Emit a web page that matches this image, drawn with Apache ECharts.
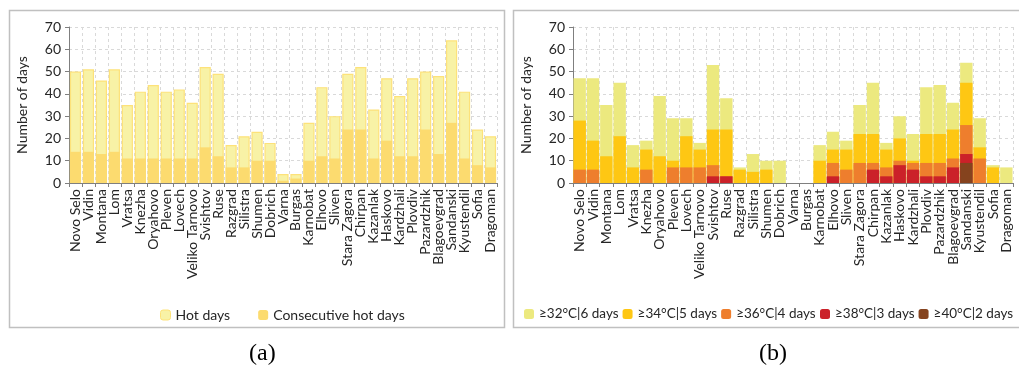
<!DOCTYPE html>
<html>
<head>
<meta charset="utf-8">
<script src="https://cdn.jsdelivr.net/npm/echarts@6/dist/echarts.min.js"></script>
<style>
html,body{margin:0;padding:0;background:#fff;}
#c{width:1019px;height:376px;}
</style>
</head>
<body>
<div id="c"></div>
<script>
var stations = ['Novo Selo','Vidin','Montana','Lom','Vratsa','Knezha','Oryahovo','Pleven','Lovech','Veliko Tarnovo','Svishtov','Ruse','Razgrad','Silistra','Shumen','Dobrich','Varna','Burgas','Karnobat','Elhovo','Sliven','Stara Zagora','Chirpan','Kazanlak','Haskovo','Kardzhali','Plovdiv','Pazardzhik','Blagoevgrad','Sandanski','Kyustendil','Sofia','Dragoman'];
var yTicks = [0,10,20,30,40,50,60,70];

// (a)
var hotDays =        [50,51,46,51,35,41,44,41,42,36,52,49,17,21,23,18,4,4,27,43,30,49,52,33,47,39,47,50,48,64,41,24,21];
var consecutiveHot = [14,14,13,14,11,11,11,11,11,11,16,12,7,7,10,10,1,2,10,12,11,24,24,11,19,12,12,24,13,27,11,8,7];

// (b) number of days in heat waves per threshold (each bar drawn from 0)
var ge32 = [47,47,35,45,17,19,39,29,29,18,53,38,7,13,10,10,0,0,17,23,19,35,45,18,30,22,43,44,36,54,29,8,7];
var ge34 = [28,19,12,21,7,15,12,10,21,15,24,24,6,5,6,0,0,0,10,15,15,22,22,15,20,10,22,22,24,45,16,7,0];
var ge36 = [6,6,0,0,0,6,0,7,7,7,8,3,0,0,0,0,0,0,0,9,6,9,9,7,10,9,9,9,11,26,11,0,0];
var ge38 = [0,0,0,0,0,0,0,0,0,0,3,3,0,0,0,0,0,0,0,3,0,0,6,3,8,6,3,3,7,13,0,0,0];
var ge40 = [0,0,0,0,0,0,0,0,0,0,0,0,0,0,0,0,0,0,0,0,0,0,0,0,0,0,0,0,0,9,0,0,0];

var seriesNamesA = ['Hot days','Consecutive hot days'];
var seriesNamesB = ['≥32°C|6 days','≥34°C|5 days','≥36°C|4 days','≥38°C|3 days','≥40°C|2 days'];

var FONT = 'Lato';
var chart = echarts.init(document.getElementById('c'), null, {renderer:'canvas'});

function xAx(gi){
  return {
    type:'category', gridIndex:gi, data:stations,
    axisLine:{lineStyle:{color:'#7f7f7f'}},
    axisTick:{show:true, length:4, lineStyle:{color:'#7f7f7f'}},
    axisLabel:{rotate:90, interval:0, color:'#262626', fontFamily:FONT, fontSize:14, margin:6},
    splitLine:{show:true, lineStyle:{color:'#d9d9d9', type:[3,3]}}
  };
}
function yAx(gi){
  return {
    type:'value', gridIndex:gi, min:0, max:70, interval:10,
    name:'Number of days', nameLocation:'middle', nameGap:40, nameRotate:90,
    nameTextStyle:{color:'#262626', fontFamily:FONT, fontSize:14},
    axisLine:{show:true, lineStyle:{color:'#7f7f7f'}},
    axisTick:{show:true, length:4, lineStyle:{color:'#7f7f7f'}},
    axisLabel:{color:'#262626', fontFamily:FONT, fontSize:14, margin:8,
      formatter:function(v){return yTicks.indexOf(v)>=0 ? String(v) : '';}},
    splitLine:{show:true, lineStyle:{color:'#d9d9d9', type:[3,3]}}
  };
}

var colorsB = ['#ece97f','#fec713','#ee7e2d','#cb2129','#85431e'];
var dataB = [ge32,ge34,ge36,ge38,ge40];

var series = [
  {name:seriesNamesA[0], type:'bar', xAxisIndex:0, yAxisIndex:0, data:hotDays,
   barCategoryGap:'14%', barGap:'-100%',
   itemStyle:{color:'#f8f2a6', borderColor:'#fde27a', borderWidth:1.2}},
  {name:seriesNamesA[1], type:'bar', xAxisIndex:0, yAxisIndex:0, data:consecutiveHot,
   barCategoryGap:'14%', barGap:'-100%',
   itemStyle:{color:'#fcdb6f'}}
];
for (var i=0;i<5;i++){
  series.push({name:seriesNamesB[i], type:'bar', xAxisIndex:1, yAxisIndex:1, data:dataB[i],
    barCategoryGap:'7%', barGap:'-100%', itemStyle:{color:colorsB[i]}});
}

var legText = {color:'#262626', fontFamily:FONT, fontSize:13.5};
var option = {
  animation:false,
  textStyle:{fontFamily:FONT},
  grid:[
    {left:69, top:27, width:428, height:156},
    {left:573, top:27, width:440, height:156}
  ],
  xAxis:[xAx(0), xAx(1)],
  yAxis:[yAx(0), yAx(1)],
  legend:[
    {data:[{name:seriesNamesA[0], itemStyle:{color:'#f8f2a6', borderColor:'#fde27a', borderWidth:1}}, seriesNamesA[1]],
     left:155, top:303, itemWidth:10, itemHeight:10, itemGap:28,
     textStyle:{color:'#262626', fontFamily:FONT, fontSize:14}},
    {data:seriesNamesB.slice(0,3), left:524, top:307, itemWidth:10, itemHeight:10, itemGap:4, padding:0,
     textStyle:legText},
    {data:seriesNamesB.slice(3), left:820, top:307, itemWidth:10, itemHeight:10, itemGap:4, padding:0,
     textStyle:legText}
  ],
  graphic:[
    {type:'rect', shape:{x:9.5,y:10.5,width:495,height:317}, style:{fill:'none', stroke:'#c0c0c0', lineWidth:1.5}, silent:true},
    {type:'rect', shape:{x:513.5,y:10.5,width:520,height:317}, style:{fill:'none', stroke:'#c0c0c0', lineWidth:1.5}, silent:true},
    {type:'text', left:249, top:342, style:{text:'(a)', font:'24px "Liberation Serif"', fill:'#000'}},
    {type:'text', left:759, top:342, style:{text:'(b)', font:'24px "Liberation Serif"', fill:'#000'}}
  ],
  series:series
};
chart.setOption(option);
</script>
</body>
</html>
